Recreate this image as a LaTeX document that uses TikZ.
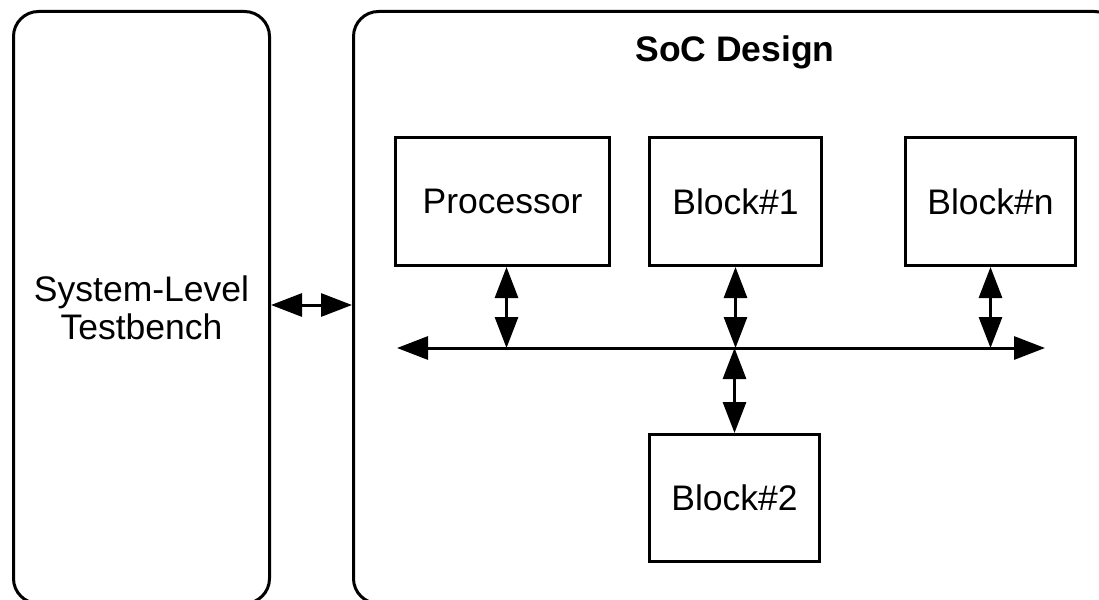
\documentclass[tikz,border=0pt]{standalone}
\usepackage{fontspec}
\setmainfont{Liberation Sans}
\usetikzlibrary{arrows.meta}
\begin{document}
\begin{tikzpicture}[x=1pt,y=-1pt,
  bigbox/.style={draw, line width=3pt, rounded corners=25pt, anchor=north west, inner sep=0pt, align=center, font=\fontsize{35.5}{38}\selectfont},
  blockbox/.style={draw, line width=3pt, anchor=north west, inner sep=0pt, font=\fontsize{35.5}{40}\selectfont},
  biarrow/.style={line width=3pt, {Triangle[length=31pt,width=23pt]}-{Triangle[length=31pt,width=23pt]}}]
\useasboundingbox (0,0) rectangle (1099,599);
\node[bigbox, minimum width=256pt, minimum height=592pt] (tb) at (12,10) {System-Level\\Testbench};
\node[bigbox, minimum width=766pt, minimum height=592pt] (soc) at (352,10) {};
\node[font=\fontsize{35.5}{40}\selectfont\bfseries] (title) at (735,52) {SoC Design};
\node[blockbox, minimum width=214pt, minimum height=128pt] (proc) at (394,136) {Processor};
\node[blockbox, minimum width=172pt, minimum height=128pt] (b1) at (648,136) {Block\#1};
\node[blockbox, minimum width=170pt, minimum height=128pt] (bn) at (904,136) {Block\#n};
\node[blockbox, minimum width=170pt, minimum height=127pt] (b2) at (648,433) {Block\#2};
\coordinate (busL) at (397,348);
\coordinate (busR) at (1045,348);
\coordinate (lnk) at (0,305);
\draw[biarrow] (busL) -- (busR);
\draw[biarrow] (tb.east |- lnk) -- (soc.west |- lnk);
\draw[biarrow] ([xshift=4pt]proc.south) -- ([xshift=4pt]proc.south |- busL);
\draw[biarrow] (b1.south) -- (b1.south |- busL);
\draw[biarrow] (bn.south) -- (bn.south |- busL);
\draw[biarrow] (b2.north |- busL) -- (b2.north);
\end{tikzpicture}
\end{document}
